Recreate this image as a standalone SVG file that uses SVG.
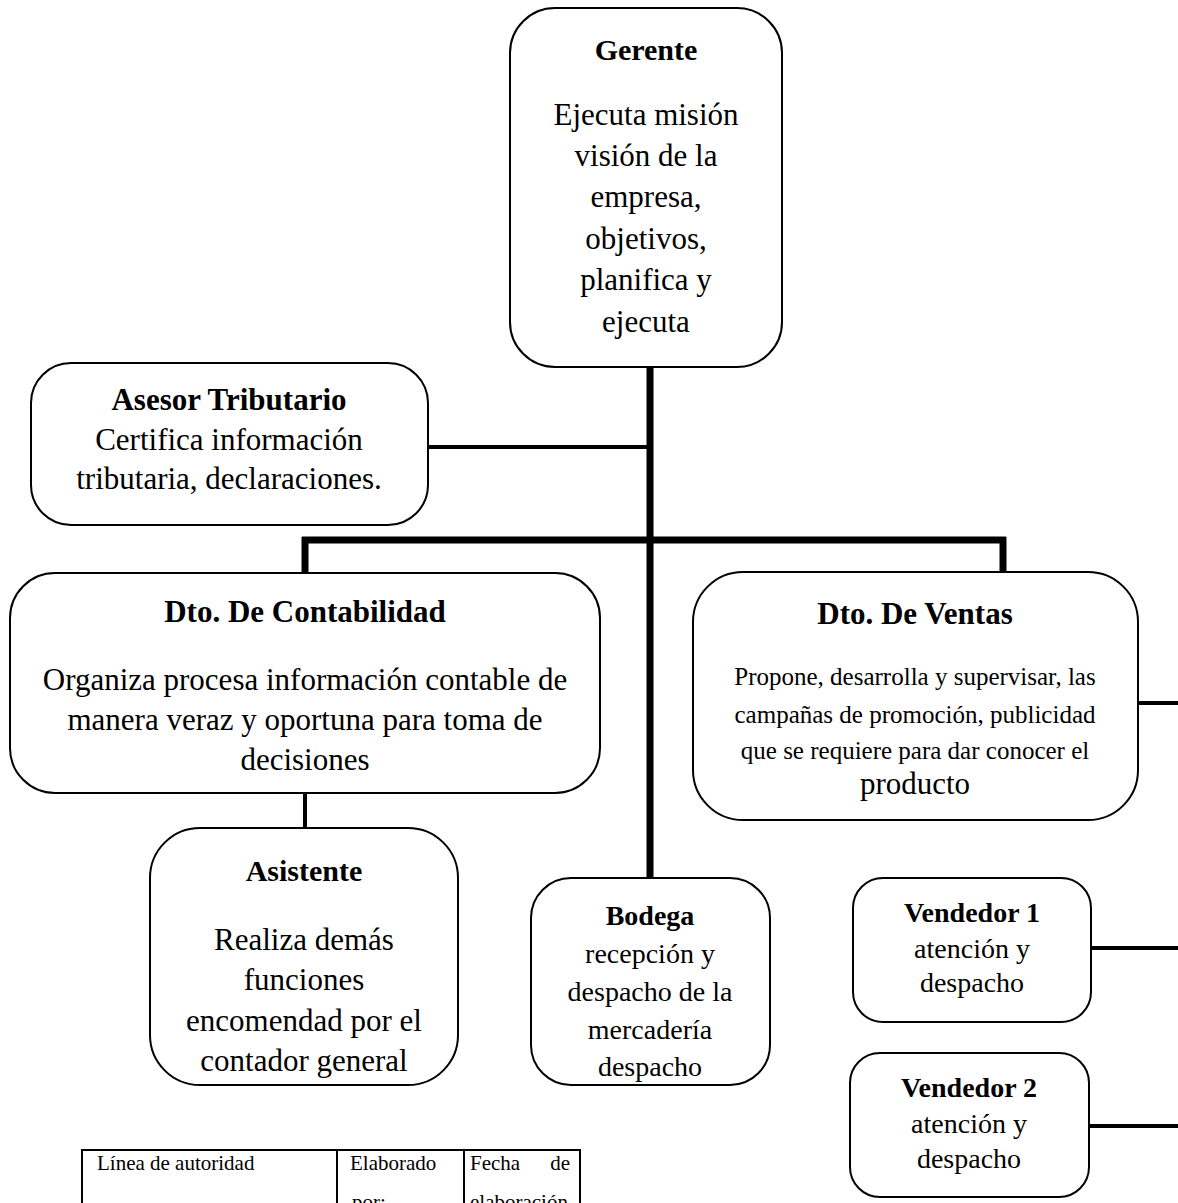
<svg xmlns="http://www.w3.org/2000/svg" width="1178" height="1203" viewBox="0 0 1178 1203">
<style>
.box{fill:#fff;stroke:#000;stroke-width:2}
.t{font-family:"Liberation Serif","Times New Roman",serif;fill:#000;text-anchor:middle}
.b{font-weight:bold}
.thick{stroke:#000;stroke-width:7;fill:none}
.thin{stroke:#000;stroke-width:4;fill:none}
.tb{fill:none;stroke:#000;stroke-width:2}
.tt{font-family:"Liberation Serif","Times New Roman",serif;fill:#000;font-size:21px}
</style>
<rect width="1178" height="1203" fill="#fff"/>
<g id="connectors">
<line class="thick" x1="650" y1="367" x2="650" y2="878"/>
<line class="thick" x1="302" y1="540" x2="1006" y2="540"/>
<line class="thick" x1="305" y1="537" x2="305" y2="573"/>
<line class="thick" x1="1003" y1="537" x2="1003" y2="572"/>
<line class="thin" x1="428" y1="447" x2="650" y2="447"/>
<line class="thin" x1="305" y1="793" x2="305" y2="828"/>
<line class="thin" x1="1138" y1="703" x2="1178" y2="703"/>
<line class="thin" x1="1091" y1="948" x2="1178" y2="948"/>
<line class="thin" x1="1089" y1="1126" x2="1178" y2="1126"/>
</g>
<g id="gerente">
<rect class="box" x="510" y="8" width="272" height="359" rx="45"/>
<text class="t b" x="646" y="60" font-size="30">Gerente</text>
<text class="t" x="646" y="125" font-size="31">Ejecuta misión</text>
<text class="t" x="646" y="166" font-size="31">visión de la</text>
<text class="t" x="646" y="207" font-size="31">empresa,</text>
<text class="t" x="646" y="249" font-size="31">objetivos,</text>
<text class="t" x="646" y="290" font-size="31">planifica y</text>
<text class="t" x="646" y="332" font-size="31">ejecuta</text>
</g>
<g id="asesor">
<rect class="box" x="31" y="363" width="397" height="162" rx="40"/>
<text class="t b" x="229" y="410" font-size="31">Asesor Tributario</text>
<text class="t" x="229" y="450" font-size="31">Certifica información</text>
<text class="t" x="229" y="489" font-size="31">tributaria, declaraciones.</text>
</g>
<g id="contabilidad">
<rect class="box" x="10" y="573" width="590" height="220" rx="45"/>
<text class="t b" x="305" y="622" font-size="31">Dto. De Contabilidad</text>
<text class="t" x="305" y="690" font-size="31">Organiza procesa información contable de</text>
<text class="t" x="305" y="730" font-size="31">manera veraz y  oportuna para toma de</text>
<text class="t" x="305" y="770" font-size="31">decisiones</text>
</g>
<g id="ventas">
<rect class="box" x="693" y="572" width="445" height="248" rx="50"/>
<text class="t b" x="915" y="624" font-size="31">Dto. De Ventas</text>
<text class="t" x="915" y="685" font-size="25">Propone, desarrolla y supervisar, las</text>
<text class="t" x="915" y="723" font-size="25">campañas de promoción, publicidad</text>
<text class="t" x="915" y="759" font-size="25">que se requiere para dar conocer el</text>
<text class="t" x="915" y="794" font-size="31">producto</text>
</g>
<g id="asistente">
<rect class="box" x="150" y="828" width="308" height="257" rx="50"/>
<text class="t b" x="304" y="881" font-size="30">Asistente</text>
<text class="t" x="304" y="950" font-size="31">Realiza demás</text>
<text class="t" x="304" y="990" font-size="31">funciones</text>
<text class="t" x="304" y="1031" font-size="31">encomendad por el</text>
<text class="t" x="304" y="1071" font-size="31">contador general</text>
</g>
<g id="bodega">
<rect class="box" x="531" y="878" width="239" height="207" rx="40"/>
<text class="t b" x="650" y="925" font-size="28">Bodega</text>
<text class="t" x="650" y="963" font-size="28">recepción y</text>
<text class="t" x="650" y="1001" font-size="28">despacho de la</text>
<text class="t" x="650" y="1039" font-size="28">mercadería</text>
<text class="t" x="650" y="1076" font-size="28">despacho</text>
</g>
<g id="vendedor1">
<rect class="box" x="853" y="878" width="238" height="144" rx="30"/>
<text class="t b" x="972" y="922" font-size="28">Vendedor 1</text>
<text class="t" x="972" y="958" font-size="28">atención y</text>
<text class="t" x="972" y="992" font-size="28">despacho</text>
</g>
<g id="vendedor2">
<rect class="box" x="850" y="1053" width="239" height="144" rx="30"/>
<text class="t b" x="969" y="1097" font-size="28">Vendedor 2</text>
<text class="t" x="969" y="1133" font-size="28">atención y</text>
<text class="t" x="969" y="1168" font-size="28">despacho</text>
</g>
<g id="tabla">
<rect class="tb" x="82" y="1150" width="498" height="80"/>
<line class="tb" x1="337" y1="1150" x2="337" y2="1230"/>
<line class="tb" x1="464" y1="1150" x2="464" y2="1230"/>
<text class="tt" x="97" y="1170">Línea de autoridad</text>
<text class="tt" x="350" y="1170">Elaborado</text>
<text class="tt" x="352" y="1209">por:</text>
<text class="tt" x="470" y="1170">Fecha</text>
<text class="tt" x="570" y="1170" text-anchor="end">de</text>
<text class="tt" x="470" y="1209">elaboración</text>
</g>
</svg>
